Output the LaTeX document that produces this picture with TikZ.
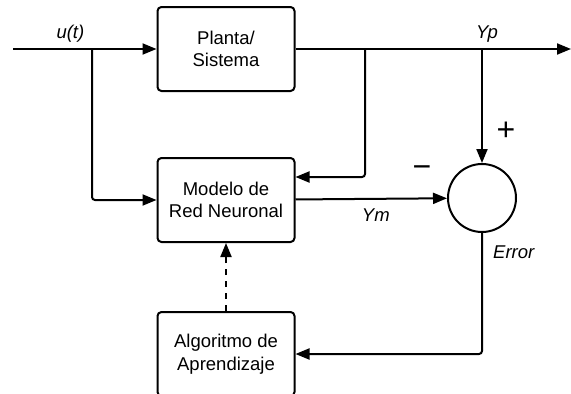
\documentclass[tikz,border=0pt]{standalone}
\usepackage{fontspec}
\setmainfont{Liberation Sans}
\usepackage{tikz}
\usetikzlibrary{
  positioning,
  arrows.meta,
  calc
}
\newcommand{\blocktext}{\fontsize{18.5}{22.5}\selectfont}
\newcommand{\signtext}{\fontsize{32}{32}\selectfont}

\begin{document}
\begin{tikzpicture}[
  x=1pt, y=-1pt,
  >={Triangle[length=14pt,width=11pt]},
  blockbox/.style={
    rectangle, rounded corners=4pt, minimum width=137pt, minimum height=84pt,
    align=center, font=\blocktext, draw, line width=2pt, fill=white
  },
  sumnode/.style={circle, draw, line width=2pt, minimum size=68pt, inner sep=0pt},
  signal/.style={font=\blocktext\itshape, inner sep=2pt},
  link/.style={->, line width=2pt, rounded corners=3pt}
]
\useasboundingbox (0,0) rectangle (571,394);

\node[blockbox] (planta) at (226,49) {Planta/\\Sistema};
\node[blockbox, below=65pt of planta] (modelo) {Modelo de\\Red Neuronal};
\node[blockbox, below=68pt of modelo] (algoritmo) {Algoritmo de\\Aprendizaje};
\node[sumnode] (sum) at (482,198) {};

% branch points on the signal lines
\coordinate (in) at (13,49);
\coordinate (ubranch) at (92,49);
\coordinate (out) at (571,49);
\coordinate (fbbranch) at (365,49);
\coordinate (ypbranch) at (sum.north |- out);
\coordinate (fbin) at ($(modelo.east)+(0,-23)$);

\draw[link] (in) -- node[signal, above=4pt, pos=0.4] (ulabel) {u(t)} (planta);
\draw[link] (ubranch) |- (modelo);
\draw[link] (planta) -- (out);
\node[signal, above=4pt] (yplabel) at ($(ypbranch)+(5,0)$) {Yp};
\draw[link] (fbbranch) |- (fbin);
\draw[link] (ypbranch) -- (sum);
\draw[link] (modelo) -- node[signal, below=7pt, pos=0.53] (ymlabel) {Ym} (sum);
\draw[link] (sum) |- (algoritmo);
\node[signal, right] (errlabel) at ($(sum.south)+(9,19)$) {Error};
\draw[->, line width=2pt, dash pattern=on 6pt off 6pt] (algoritmo) -- (modelo);

% signs at the summing point
\node[font=\signtext] (plus) at (506,131) {+};
\node[font=\signtext] (minus) at (422,172) {−};

\end{tikzpicture}
\end{document}
